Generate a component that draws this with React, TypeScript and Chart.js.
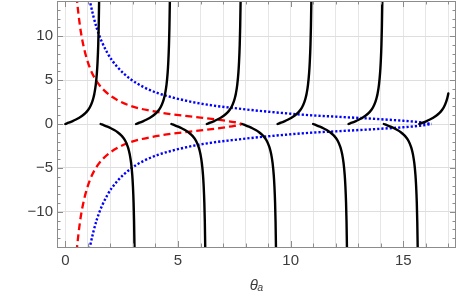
import React, { useEffect, useRef } from 'react';
import { Chart, registerables } from 'chart.js';

Chart.register(...registerables);

// Axis ranges and labelled ticks
const X_MIN = -0.37;
const X_MAX = 17.34;
const Y_MIN = -14;
const Y_MAX = 14;
const xTickLabels = [0, 5, 10, 15];
const yTickLabels = [-10, -5, 0, 5, 10];

// Black branch profile (offset from branch start, value)
const branchOffsets = [0, 0.15, 0.3, 0.45, 0.6, 0.75, 0.9, 1.0, 1.1, 1.2, 1.25, 1.29, 1.35, 1.4, 1.43, 1.46, 1.48, 1.5, 1.52, 1.54, 1.555];
const branchValues = [0, 0.15, 0.31, 0.48, 0.68, 0.93, 1.26, 1.56, 1.96, 2.57, 3.01, 3.47, 4.46, 5.8, 7.06, 8.98, 11.0, 14.1, 19.7, 32.5, 63];
const risingBranchStarts = [0, 3.14, 6.28, 9.42, 12.57, 15.71];
const fallingBranchStarts = [1.57, 4.71, 7.85, 11.0, 14.14];
const blackLastTheta = 17.0;

// Red dashed curve (upper half; the lower half is its mirror)
const redTheta = [0.5, 0.52, 0.65, 0.765, 0.9, 1.1, 1.33, 1.7, 2.3, 3.0, 3.77, 4.5, 5.24, 6.0, 6.72, 7.2, 7.5, 7.7, 7.83];
const redValue = [14.6, 14.0, 11.15, 9.4, 7.9, 6.32, 5.11, 3.88, 2.74, 1.98, 1.51, 1.19, 0.945, 0.73, 0.506, 0.333, 0.213, 0.11, 0];

// Blue dotted curve (upper half; the lower half is its mirror)
const blueTheta = [1.04, 1.09, 1.4, 1.85, 2.3, 2.9, 3.5, 4.1, 5.24, 6.3, 7.39, 9.0, 10.86, 12.19, 14.0, 15.0, 15.74, 16.26];
const blueValue = [14.7, 14.0, 10.86, 8.16, 6.52, 5.1, 4.17, 3.52, 2.72, 2.2, 1.84, 1.4, 1.0, 0.81, 0.54, 0.37, 0.2, 0];

const FONT = "'Liberation Sans', Arial, sans-serif";
const LABEL_COLOR = '#3c3c3c';
const FRAME_COLOR = '#8c8c8c';

const framePlugin = {
  id: 'mmaFrame',
  afterDatasetsDraw(chart: any) {
    const { ctx, chartArea: a, scales } = chart;
    const xs = scales.x;
    const ys = scales.y;
    ctx.save();
    ctx.strokeStyle = FRAME_COLOR;
    ctx.lineWidth = 1;
    ctx.beginPath();
    for (let i = Math.ceil(X_MIN); i <= Math.floor(X_MAX); i++) {
      const len = xTickLabels.includes(i) ? 6 : 3.5;
      const px = Math.round(xs.getPixelForValue(i)) + 0.5;
      ctx.moveTo(px, a.bottom);
      ctx.lineTo(px, a.bottom - len);
      ctx.moveTo(px, a.top);
      ctx.lineTo(px, a.top + len);
    }
    for (let j = Y_MIN; j <= Y_MAX; j++) {
      const len = yTickLabels.includes(j) ? 6 : 3.5;
      const py = Math.round(ys.getPixelForValue(j)) + 0.5;
      ctx.moveTo(a.left, py);
      ctx.lineTo(a.left + len, py);
      ctx.moveTo(a.right, py);
      ctx.lineTo(a.right - len, py);
    }
    ctx.stroke();
    ctx.strokeRect(Math.round(a.left) + 0.5, Math.round(a.top) + 0.5, Math.round(a.right - a.left) - 1, Math.round(a.bottom - a.top));
    ctx.restore();
  },
};

function App() {
  const canvasRef = useRef<HTMLCanvasElement | null>(null);

  useEffect(() => {
    const canvas = canvasRef.current;
    if (!canvas) return;

    const blackSets: any[] = [];
    risingBranchStarts.forEach((s) => {
      const pts = branchOffsets
        .map((o, i) => ({ x: s + o, y: branchValues[i] }))
        .filter((p) => p.x <= blackLastTheta + 0.001);
      blackSets.push(pts);
    });
    fallingBranchStarts.forEach((s) => {
      const pts = branchOffsets.map((o, i) => ({ x: s + o, y: -branchValues[i] }));
      blackSets.push(pts);
    });

    const lineBase = {
      type: 'line',
      showLine: true,
      pointRadius: 0,
      pointHoverRadius: 0,
      fill: false,
      clip: 0,
      cubicInterpolationMode: 'monotone',
      borderJoinStyle: 'round',
    };

    const datasets: any[] = [
      ...blackSets.map((d, k) => ({
        ...lineBase,
        label: 'branch ' + k,
        data: d,
        borderColor: '#000000',
        borderWidth: 2.4,
        borderCapStyle: 'round',
      })),
      {
        ...lineBase,
        label: 'red upper',
        data: redTheta.map((t, i) => ({ x: t, y: redValue[i] })),
        borderColor: '#ff0000',
        borderWidth: 2.3,
        borderDash: [7, 4],
      },
      {
        ...lineBase,
        label: 'red lower',
        data: redTheta.map((t, i) => ({ x: t, y: -redValue[i] })),
        borderColor: '#ff0000',
        borderWidth: 2.3,
        borderDash: [7, 4],
      },
      {
        ...lineBase,
        label: 'blue upper',
        data: blueTheta.map((t, i) => ({ x: t, y: blueValue[i] })),
        borderColor: '#0000ff',
        borderWidth: 2.4,
        borderDash: [2.2, 2],
      },
      {
        ...lineBase,
        label: 'blue lower',
        data: blueTheta.map((t, i) => ({ x: t, y: -blueValue[i] })),
        borderColor: '#0000ff',
        borderWidth: 2.4,
        borderDash: [2.2, 2],
      },
    ];

    const intsBetween = (lo: number, hi: number) => {
      const out: any[] = [];
      for (let i = Math.ceil(lo); i <= Math.floor(hi); i++) out.push({ value: i });
      return out;
    };

    const chart = new Chart(canvas, {
      type: 'scatter',
      data: { datasets },
      plugins: [framePlugin],
      options: {
        animation: false,
        responsive: false,
        events: [],
        layout: { padding: { top: 1, right: 1, left: 0, bottom: 0 } },
        plugins: {
          legend: { display: false },
          tooltip: { enabled: false },
        },
        scales: {
          x: {
            type: 'linear',
            min: X_MIN,
            max: X_MAX,
            afterBuildTicks: (s: any) => {
              s.ticks = intsBetween(X_MIN, X_MAX);
            },
            afterFit: (s: any) => {
              s.height = 50;
              s.paddingLeft = 0;
              s.paddingRight = 0;
            },
            ticks: {
              autoSkip: false,
              maxRotation: 0,
              padding: 5,
              color: LABEL_COLOR,
              font: { family: FONT, size: 15 },
              callback: (v: any) => (xTickLabels.includes(v) ? String(v) : ''),
            },
            grid: {
              drawTicks: false,
              color: '#e6e6e6',
              lineWidth: 1,
            },
            border: { display: false },
            title: {
              display: true,
              text: 'θₐ',
              color: LABEL_COLOR,
              font: { family: FONT, size: 15, style: 'italic' },
              padding: { top: 0, bottom: 2 },
            },
          },
          y: {
            type: 'linear',
            min: Y_MIN,
            max: Y_MAX,
            afterBuildTicks: (s: any) => {
              s.ticks = intsBetween(Y_MIN, Y_MAX);
            },
            afterFit: (s: any) => {
              s.width = 57;
              s.paddingTop = 0;
              s.paddingBottom = 0;
            },
            ticks: {
              autoSkip: false,
              padding: 4,
              color: LABEL_COLOR,
              font: { family: FONT, size: 15 },
              callback: (v: any) =>
                yTickLabels.includes(v) ? (v < 0 ? '\u2212' + Math.abs(v) : String(v)) : '',
            },
            grid: {
              drawTicks: false,
              color: (c: any) => (c.tick && yTickLabels.includes(c.tick.value) ? '#dedede' : 'rgba(0,0,0,0)'),
              lineWidth: 1,
            },
            border: { display: false },
          },
        },
      } as any,
    } as any);

    return () => {
      chart.destroy();
    };
  }, []);

  return (
    <div style={{ position: 'fixed', left: 0, top: 0, width: 457, height: 297, background: '#ffffff' }}>
      <canvas ref={canvasRef} width={457} height={297} style={{ display: 'block', width: 457, height: 297 }} />
    </div>
  );
}

export default App;
